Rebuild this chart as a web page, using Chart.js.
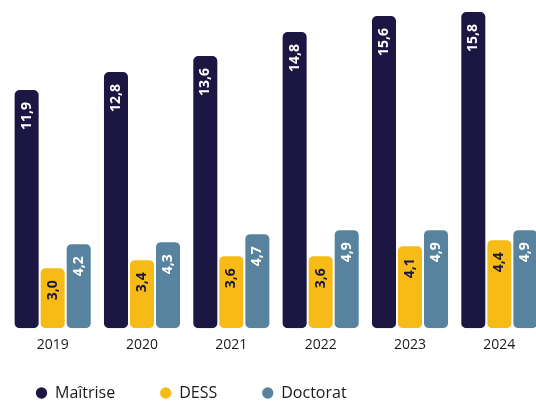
<!DOCTYPE html>
<html>
<head>
<meta charset="utf-8">
<script src="https://cdn.jsdelivr.net/npm/chart.js@4/dist/chart.umd.min.js"></script>
<style>
  html, body { margin: 0; padding: 0; background: #fff; overflow: hidden; }
  #wrap { width: 546px; height: 401px; }
</style>
</head>
<body>
<div id="wrap"><canvas id="bars"></canvas></div>
<script>
const years = ['2019', '2020', '2021', '2022', '2023', '2024'];
const maitrise = [11.9, 12.8, 13.6, 14.8, 15.6, 15.8];
const dess = [3.0, 3.4, 3.6, 3.6, 4.1, 4.4];
const doctorat = [4.2, 4.3, 4.7, 4.9, 4.9, 4.9];

const navy = '#1b1642';
const yellow = '#f6bb16';
const teal = '#58839e';

// values written sideways inside the top of each bar
const barValues = {
    id: 'barValues',
    afterDatasetsDraw(chart) {
        const ctx = chart.ctx;
        chart.data.datasets.forEach((ds, i) => {
            const meta = chart.getDatasetMeta(i);
            meta.data.forEach((bar, j) => {
                ctx.save();
                ctx.translate(bar.x, bar.y + 12);
                ctx.rotate(-Math.PI / 2);
                ctx.font = 'bold 14px "Open Sans"';
                ctx.textAlign = 'right';
                ctx.textBaseline = 'middle';
                ctx.fillStyle = ds.valueColor;
                ctx.fillText(ds.data[j].toFixed(1).replace('.', ','), 0, 0);
                ctx.restore();
            });
        });
    }
};

// nudge the legend to where it sits in the original
const legendShift = {
    id: 'legendShift',
    afterLayout(chart) {
        chart.legend.left -= 17;
        chart.legend.top -= 21;
    }
};

const ctx = document.getElementById('bars').getContext('2d');
const myChart = new Chart(ctx, {
    type: 'bar',
    data: {
        labels: years,
        datasets: [{
            label: 'Maîtrise',
            data: maitrise,
            backgroundColor: navy,
            valueColor: '#ffffff'
        }, {
            label: 'DESS',
            data: dess,
            backgroundColor: yellow,
            valueColor: navy
        }, {
            label: 'Doctorat',
            data: doctorat,
            backgroundColor: teal,
            valueColor: '#ffffff'
        }]
    },
    options: {
        responsive: true,
        maintainAspectRatio: false,
        animation: false,
        layout: { padding: { left: 8, right: 2, top: 0, bottom: 0 } },
        datasets: {
            bar: {
                categoryPercentage: 0.874,
                barPercentage: 0.923,
                borderRadius: 5,
                borderSkipped: false
            }
        },
        scales: {
            x: {
                grid: { display: false, drawTicks: false },
                border: { display: false },
                ticks: {
                    color: '#1a1a1a',
                    padding: 8,
                    font: { family: '"Open Sans"', size: 14 }
                }
            },
            y: {
                display: false,
                min: 0,
                max: 16.4
            }
        },
        plugins: {
            legend: {
                position: 'bottom',
                align: 'start',
                maxHeight: 40,
                labels: {
                    usePointStyle: true,
                    pointStyle: 'circle',
                    boxWidth: 11,
                    boxHeight: 8,
                    padding: 45,
                    color: '#1a1a1a',
                    font: { family: '"Open Sans"', size: 16 }
                }
            },
            tooltip: { enabled: false }
        }
    },
    plugins: [barValues, legendShift]
});
</script>
</body>
</html>
